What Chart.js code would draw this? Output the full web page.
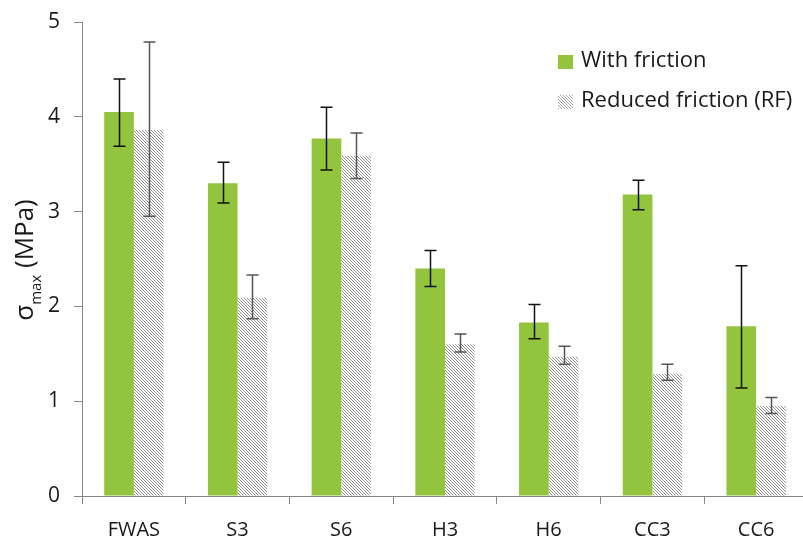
<!DOCTYPE html>
<html>
<head>
<meta charset="utf-8">
<script src="https://cdn.jsdelivr.net/npm/chart.js@4"></script>
<style>
  html, body { margin: 0; padding: 0; background: #fff; overflow: hidden; }
  #wrap { width: 812px; height: 541px; position: relative; }
</style>
</head>
<body>
<div id="wrap"><canvas id="myChart" width="812" height="541"></canvas></div>
<script>
var categories = ["FWAS", "S3", "S6", "H3", "H6", "CC3", "CC6"];
var withFriction = [4.05, 3.30, 3.77, 2.40, 1.83, 3.18, 1.79];
var withFrictionLow = [3.69, 3.09, 3.44, 2.21, 1.66, 3.02, 1.14];
var withFrictionHigh = [4.40, 3.52, 4.10, 2.59, 2.02, 3.33, 2.43];
var reducedFriction = [3.86, 2.09, 3.59, 1.60, 1.47, 1.29, 0.95];
var reducedLow = [2.95, 1.87, 3.35, 1.52, 1.39, 1.22, 0.87];
var reducedHigh = [4.79, 2.33, 3.83, 1.71, 1.58, 1.39, 1.04];
var yTicks = [0, 1, 2, 3, 4, 5];

var green = 'rgb(146,196,61)';
var axisGrey = '#868686';
var fontFamily = "'Open Sans', 'Noto Sans', sans-serif";

// hatch pattern: thin "\" lines, gray on white
function makeHatch(dark) {
  var c = document.createElement('canvas');
  c.width = 3; c.height = 3;
  var g = c.getContext('2d');
  g.fillStyle = '#fff';
  g.fillRect(0, 0, 3, 3);
  g.fillStyle = dark;
  for (var i = 0; i < 3; i++) g.fillRect(i, i, 1, 1);
  return g.createPattern(c, 'repeat');
}
var ctx = document.getElementById("myChart").getContext('2d');
var hatch = makeHatch('#949494');
var hatchLight = makeHatch('#a8a8a8');

var errorBars = {
  id: 'errorBars',
  afterDatasetsDraw: function(chart) {
    var c = chart.ctx;
    var y = chart.scales.y;
    var sets = [[withFrictionLow, withFrictionHigh, '#111'], [reducedLow, reducedHigh, '#555']];
    c.save();
    sets.forEach(function(s, di) {
      var meta = chart.getDatasetMeta(di);
      meta.data.forEach(function(bar, i) {
        var x = Math.round(bar.x) + 0.5;
        var top = y.getPixelForValue(s[1][i]);
        var bot = y.getPixelForValue(s[0][i]);
        c.strokeStyle = s[2];
        c.lineWidth = 1.5;
        c.beginPath();
        c.moveTo(x, top); c.lineTo(x, bot);
        c.moveTo(x - 6, top); c.lineTo(x + 6, top);
        c.moveTo(x - 6, bot); c.lineTo(x + 6, bot);
        c.stroke();
      });
    });
    c.restore();
  }
};

var extras = {
  id: 'extras',
  afterDraw: function(chart) {
    var c = chart.ctx;
    c.save();
    // y axis title with subscript
    c.translate(33, 260);
    c.rotate(-Math.PI / 2);
    c.fillStyle = '#1a1a1a';
    c.textBaseline = 'alphabetic';
    var parts = [['σ', 26, 0], ['max', 15, 8], [' (MPa)', 26, 0]];
    var total = 0;
    parts.forEach(function(p) { c.font = p[1] + 'px ' + fontFamily; total += c.measureText(p[0]).width; });
    var xx = -total / 2;
    parts.forEach(function(p) {
      c.font = p[1] + 'px ' + fontFamily;
      c.fillText(p[0], xx, p[2]);
      xx += c.measureText(p[0]).width;
    });
    c.restore();

    // legend
    c.save();
    c.font = '22px ' + fontFamily;
    c.textBaseline = 'middle';
    c.fillStyle = green;
    c.fillRect(558, 55, 15, 14);
    c.fillStyle = hatchLight;
    c.fillRect(558, 95, 15, 14);
    c.fillStyle = '#1a1a1a';
    c.fillText(chart.data.datasets[0].label, 581, 61);
    c.fillText(chart.data.datasets[1].label, 581, 101);
    c.restore();
  }
};

var myChart = new Chart(ctx, {
  type: 'bar',
  data: {
    labels: categories,
    datasets: [{
      label: 'With friction',
      data: withFriction,
      backgroundColor: green,
      categoryPercentage: 0.572,
      barPercentage: 1.0
    }, {
      label: 'Reduced friction (RF)',
      data: reducedFriction,
      backgroundColor: hatch,
      categoryPercentage: 0.572,
      barPercentage: 1.0
    }]
  },
  options: {
    responsive: false,
    animation: false,
    layout: { padding: { top: 22, right: 4, left: 0, bottom: 0 } },
    plugins: { legend: { display: false }, tooltip: { enabled: false } },
    scales: {
      x: {
        grid: { offset: true, drawOnChartArea: false, drawTicks: true, tickLength: 8, color: axisGrey },
        border: { color: axisGrey },
        ticks: { color: '#1a1a1a', font: { size: 20, family: fontFamily }, padding: 14 },
        afterFit: function(s) { s.height = 45; }
      },
      y: {
        min: 0, max: 5,
        afterBuildTicks: function(s) { s.ticks = yTicks.map(function(v) { return { value: v }; }); },
        grid: { drawOnChartArea: false, drawTicks: true, tickLength: 8, color: axisGrey },
        border: { color: axisGrey },
        ticks: { color: '#1a1a1a', font: { size: 21, family: fontFamily, lineHeight: 0.8 }, padding: 14 },
        afterFit: function(s) { s.width = 82; s.paddingTop = 0; s.paddingBottom = 0; }
      }
    }
  },
  plugins: [errorBars, extras]
});
</script>
</body>
</html>
